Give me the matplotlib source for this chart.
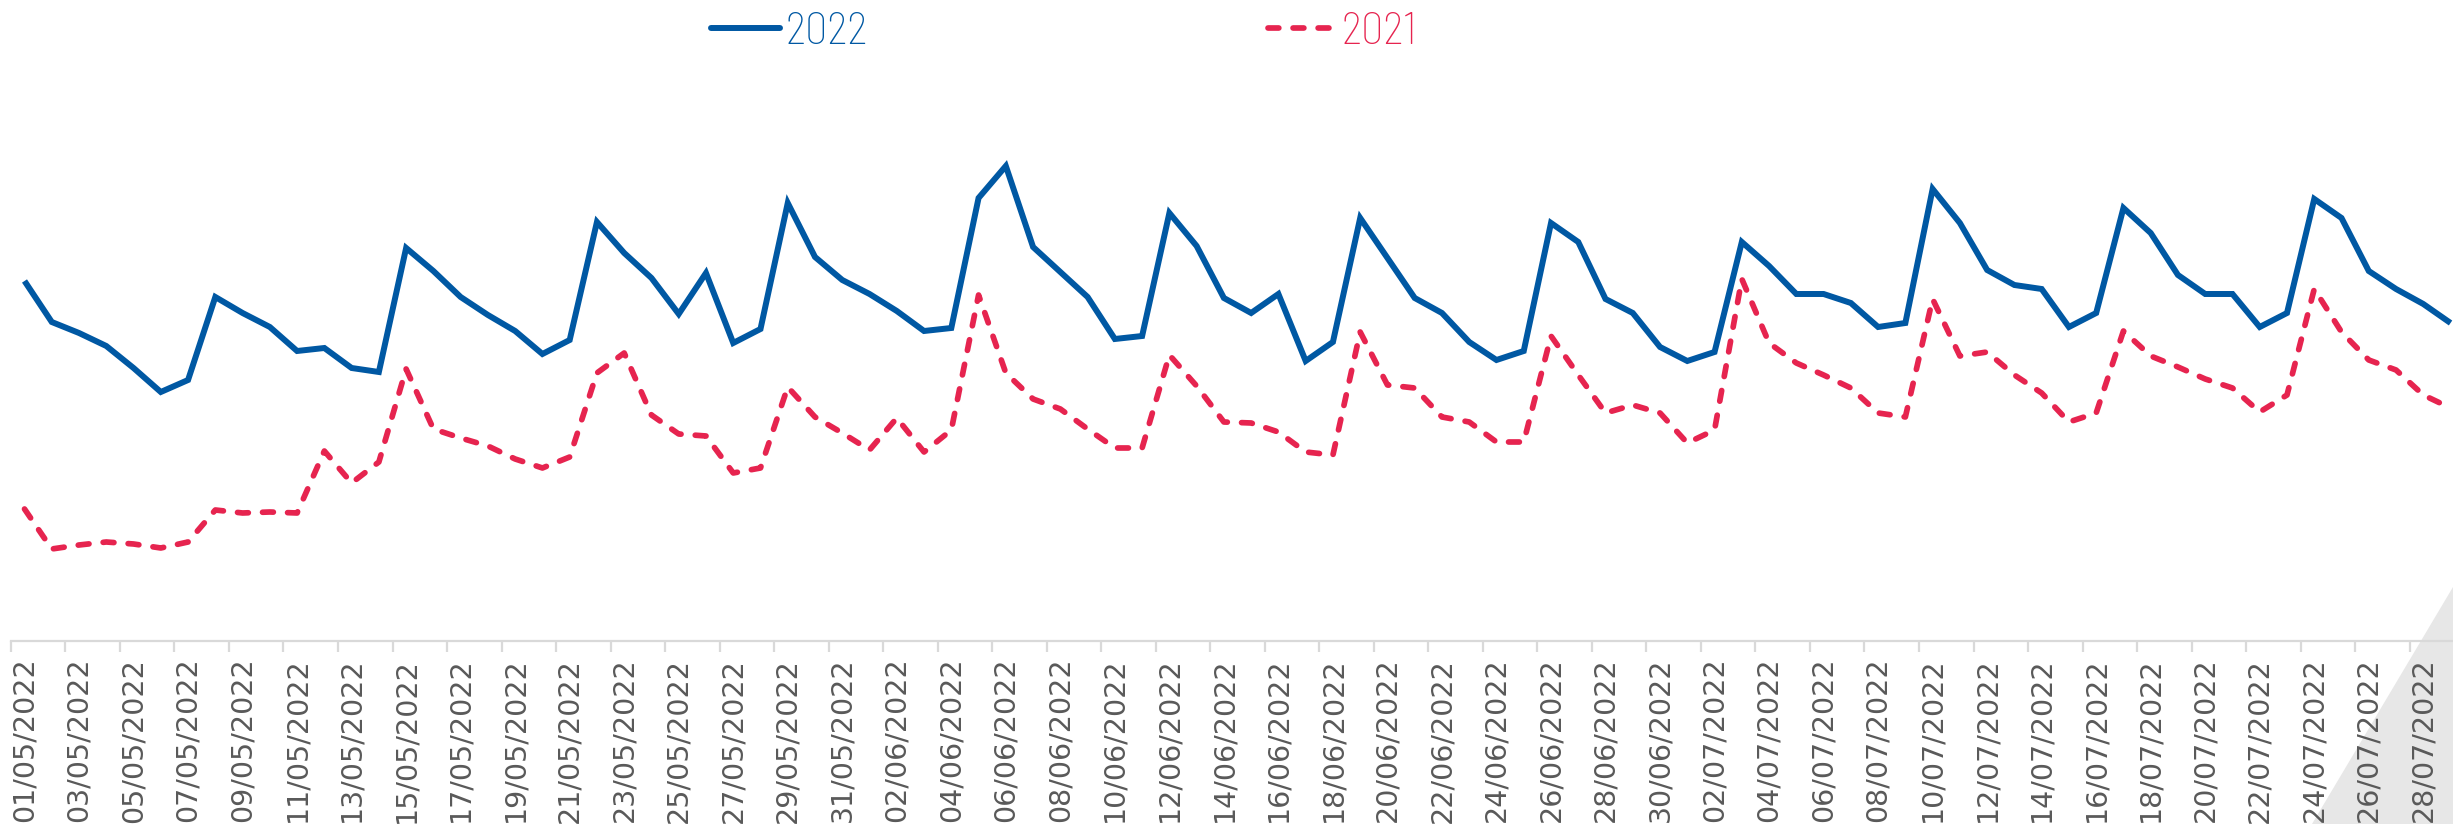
import matplotlib
matplotlib.use("Agg")
import matplotlib.pyplot as plt
from matplotlib.lines import Line2D
from matplotlib.patches import Polygon
import numpy as np
import pandas as pd

# daily categories 01/05/2022 .. 29/07/2022
DATES = pd.date_range("2022-05-01", "2022-07-29", freq="D")
DATE_LABELS = [d.strftime("%d/%m/%Y") for d in DATES]

VALUES_2022 = [
    360, 319, 308, 295, 273, 249, 261, 344, 328, 314,
    290, 293, 273, 269, 393, 370, 344, 326, 310, 287,
    301, 419, 388, 363, 327, 368, 298, 312, 438, 384,
    361, 347, 330, 310, 313, 443, 475, 394, 369, 344,
    302, 305, 428, 395, 343, 328, 347, 280, 299, 423,
    383, 343, 328, 299, 281, 290, 418, 399, 342, 328,
    294, 280, 289, 399, 375, 347, 347, 338, 314, 318,
    452, 418, 371, 356, 352, 314, 328, 433, 408, 366,
    347, 347, 314, 328, 442, 423, 370, 352, 337, 318,
]
VALUES_2021 = [
    132, 92, 96, 99, 97, 93, 99, 131, 128, 129,
    128, 190, 158, 179, 272, 212, 203, 195, 182, 173,
    184, 268, 288, 226, 207, 205, 168, 173, 254, 224,
    208, 191, 223, 189, 211, 346, 268, 242, 232, 212,
    193, 193, 286, 255, 219, 218, 209, 189, 186, 309,
    256, 253, 224, 219, 199, 199, 305, 266, 228, 236,
    228, 198, 211, 362, 298, 278, 266, 253, 228, 224,
    342, 285, 289, 266, 248, 219, 228, 310, 285, 274,
    262, 253, 229, 246, 352, 309, 281, 271, 246, 233,
]
SERIES_LABELS = ["2022", "2021"]

BLUE = "#0058A3"
RED = "#E6244F"
AXIS_GREY = "#D9D9D9"
TEXT_GREY = "#595959"
LEGEND_FONT = ["Barlow Semi Condensed", "Barlow Condensed", "DejaVu Sans"]

fig = plt.figure(figsize=(24.53, 8.24), dpi=100)

# decorative grey wedge in the bottom-right corner, kept behind the axes
fig.patches.append(Polygon([(1.0, 0.2876), (1.0, 0.0), (0.9425, 0.0)],
                           closed=True, transform=fig.transFigure,
                           facecolor="#E7E7E7", edgecolor="none", zorder=-5))

ax = fig.add_axes([0.0, 0.2221, 1.0, 0.7779])
ax.set_zorder(2)
ax.patch.set_visible(False)

x = np.arange(len(DATES))
ax.plot(x, VALUES_2022, color=BLUE, lw=4.3, solid_joinstyle="miter",
        solid_capstyle="butt", zorder=3)
ax.plot(x, VALUES_2021, color=RED, lw=4.1, linestyle=(0, (1.9, 2.5)),
        dash_capstyle="round", zorder=2)

ax.set_xlim(-0.899, 89.09)
ax.set_ylim(0, 641)
ax.set_yticks([])

for side in ("left", "right", "top"):
    ax.spines[side].set_visible(False)
ax.spines["bottom"].set_color(AXIS_GREY)
ax.spines["bottom"].set_linewidth(1.6)
ax.spines["bottom"].set_bounds(-0.5, 89.09)

ax.set_xticks(x[::2])
ax.set_xticklabels(DATE_LABELS[::2], rotation=90, fontsize=20.5,
                   color=TEXT_GREY, va="top", ha="center")
ax.set_xticks(np.arange(-0.5, 89.09, 2), minor=True)
ax.tick_params(axis="x", which="major", length=0, pad=12)
ax.tick_params(axis="x", which="minor", length=8, width=1.6,
               color=AXIS_GREY, direction="out")

handles = [Line2D([], [], color=BLUE, lw=4.3, solid_capstyle="round"),
           Line2D([], [], color=RED, lw=4.1, linestyle=(0, (1.9, 2.5)),
                  dash_capstyle="round")]
leg = fig.legend(handles, SERIES_LABELS, loc="center left",
                 bbox_to_anchor=(0.2808, 0.961), ncol=2, frameon=False,
                 prop={"family": LEGEND_FONT, "size": 32, "weight": "light"},
                 borderpad=0, handlelength=1.55, handletextpad=0.12,
                 columnspacing=9.0)
for txt, col in zip(leg.get_texts(), [BLUE, RED]):
    txt.set_color(col)

fig.savefig("out.png", dpi=100)
